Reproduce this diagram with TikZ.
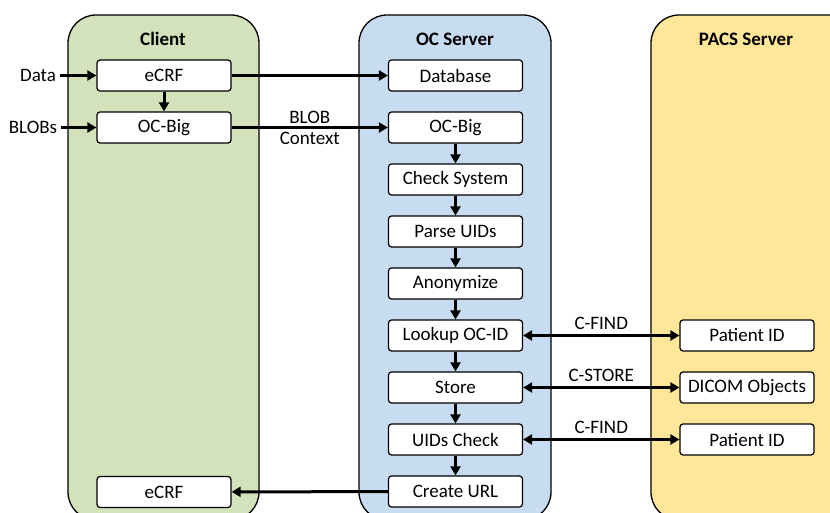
\documentclass[tikz,border=0pt]{standalone}
\usepackage{fontspec}
\setmainfont{Carlito}
\usepackage{tikz}
\usetikzlibrary{arrows.meta,positioning}

\definecolor{clientgreen}{HTML}{D3E2BA}
\definecolor{ocblue}{HTML}{C8DCF1}
\definecolor{pacsyellow}{HTML}{FFE699}

\begin{document}
\begin{tikzpicture}[x=1pt, y=-1pt,
    font=\fontsize{19}{22}\selectfont,
    lane/.style={draw, line width=1.3pt, rounded corners=28pt},
    ttl/.style={font=\fontsize{19}{22}\selectfont\bfseries},
    blk/.style={draw, fill=white, rounded corners=3pt, line width=1.2pt, minimum width=134pt, minimum height=31pt, inner sep=0pt},
    arr/.style={-{Triangle[length=9pt, width=10pt]}, line width=3pt},
    darr/.style={{Triangle[length=9pt, width=10pt]}-{Triangle[length=9pt, width=10pt]}, line width=3pt},
    lbl/.style={inner sep=4pt}
]
\clip (0,0) rectangle (830,513);

% lanes
\draw[lane, fill=clientgreen] (68,15) rectangle (259,520);
\draw[lane, fill=ocblue] (359,15) rectangle (551,520);
\draw[lane, fill=pacsyellow] (651,15) rectangle (880,520);
\node[ttl] (tclient) at (163,39) {Client};
\node[ttl] (tserver) at (455,39) {OC Server};
\node[ttl] (tpacs) at (746,39) {PACS Server};

% client
\node[blk] (ecrf) at (164,75.5) {eCRF};
\node[blk] (cbig) at (164,127.5) {OC-Big};
\node[blk] (ecrfb) at (164,492) {eCRF};
\node[inner sep=4pt] (data) at (38,75.5) {Data};
\node[inner sep=4pt] (blobs) at (33,127.5) {BLOBs};

% OC server
\node[blk] (db) at (455.5,75.5) {Database};
\node[blk] (obig) at (455.5,127.5) {OC-Big};
\node[blk] (chk) at (455.5,179.5) {Check System};
\node[blk] (parse) at (455.5,231.5) {Parse UIDs};
\node[blk] (anon) at (455.5,283.5) {Anonymize};
\node[blk] (look) at (455.5,335.5) {Lookup OC-ID};
\node[blk] (store) at (455.5,387.5) {Store};
\node[blk] (uidc) at (455.5,439.5) {UIDs Check};
\node[blk] (url) at (455.5,491.5) {Create URL};

% PACS
\node[blk] (pid1) at (747,335.5) {Patient ID};
\node[blk] (dicom) at (747,387.5) {DICOM Objects};
\node[blk] (pid2) at (747,439.5) {Patient ID};

\draw[arr] (data) -- (ecrf);
\draw[arr] (blobs) -- (cbig);
\draw[arr] (ecrf) -- (cbig);
\draw[arr] (ecrf) -- (db);
\draw[arr] (cbig) -- node[lbl, above, inner sep=2.5pt] {BLOB} node[lbl, below, inner sep=3.5pt] {Context} (obig);
\draw[arr] (obig) -- (chk);
\draw[arr] (chk) -- (parse);
\draw[arr] (parse) -- (anon);
\draw[arr] (anon) -- (look);
\draw[arr] (look) -- (store);
\draw[arr] (store) -- (uidc);
\draw[arr] (uidc) -- (url);
\draw[darr] (look) -- node[lbl, above] {C-FIND} (pid1);
\draw[darr] (store) -- node[lbl, above] {C-STORE} (dicom);
\draw[darr] (uidc) -- node[lbl, above] {C-FIND} (pid2);
\draw[arr] (url) -- (ecrfb);
\end{tikzpicture}
\end{document}
